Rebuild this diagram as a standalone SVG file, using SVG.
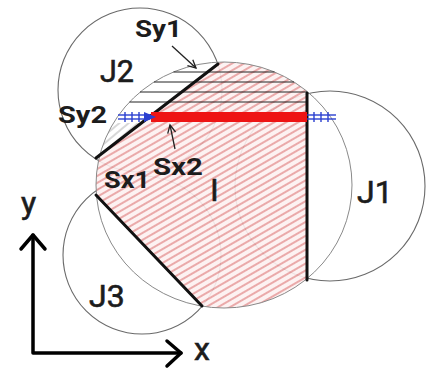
<svg xmlns="http://www.w3.org/2000/svg" width="429" height="369" viewBox="0 0 429 369">
<style>
.circ{fill:none;stroke:#6a6a6a;stroke-width:1.1}
.iout{fill:none;stroke:#8a8a8a;stroke-width:1}
.cut{stroke:#111;stroke-width:3;stroke-linecap:round;fill:none}
.hl{stroke:#222;stroke-width:1}
.blue{stroke:#2a3fd0;stroke-width:1.4;fill:none}
.ptr{stroke:#222;stroke-width:1.3;fill:none}
.axis{stroke:#000;stroke-width:3.5;fill:none;stroke-linecap:round;stroke-linejoin:round}
.big{font-family:Roboto,"Liberation Sans",sans-serif;font-size:32px;fill:#1c1c1c;stroke:#1c1c1c;stroke-width:0.6}
.sm{font-family:Roboto,"Liberation Sans",sans-serif;font-size:24px;font-weight:bold;fill:#1c1c1c}
</style>
<defs>
<pattern id="rh" patternUnits="userSpaceOnUse" width="10" height="6" patternTransform="rotate(-30)">
<rect width="10" height="6" fill="#fdf0f0"/>
<line x1="0" y1="3" x2="10" y2="3" stroke="#e07d7d" stroke-width="1.4"/>
</pattern>
<pattern id="gh" patternUnits="userSpaceOnUse" width="10" height="6" patternTransform="rotate(-40)">
<line x1="0" y1="3" x2="10" y2="3" stroke="#9a9a9a" stroke-width="0.8"/>
</pattern>
<clipPath id="cellClip"><polygon points="266.8,26.4 307,26.4 307,340 233.8,339.3 75.6,173.7"/></clipPath>
<clipPath id="lensClip"><polygon points="301,0 35,205 0,205 0,0"/></clipPath>
<clipPath id="belowBar"><rect x="0" y="123" width="429" height="246"/></clipPath>
<marker id="ah" markerUnits="userSpaceOnUse" markerWidth="12" markerHeight="12" refX="9" refY="5" orient="auto">
<path d="M1,1 L9,5 L1,9" fill="none" stroke="#222" stroke-width="1.3"/>
</marker>
</defs>

<g id="J1"><circle class="circ" cx="330" cy="186" r="95"/></g>
<g id="J2"><circle class="circ" cx="140" cy="90" r="82"/></g>
<g id="J3"><circle class="circ" cx="142" cy="255" r="79"/></g>

<g id="I">
<g clip-path="url(#cellClip)" opacity="0.9">
<ellipse cx="224" cy="185" rx="128" ry="123" fill="url(#rh)"/>
</g>
<g clip-path="url(#belowBar)">
<g clip-path="url(#lensClip)">
<ellipse cx="224" cy="185" rx="128" ry="123" fill="url(#gh)"/>
</g>
</g>
<ellipse class="iout" cx="224" cy="185" rx="128" ry="123"/>
<line class="hl" x1="173.5" y1="72" x2="274.5" y2="72"/>
<line class="hl" x1="154" y1="82" x2="294" y2="82"/>
<line class="hl" x1="140" y1="92" x2="307" y2="92"/>
<line class="hl" x1="129.5" y1="102" x2="307" y2="102"/>
<line class="cut" x1="218" y1="64" x2="96" y2="158"/>
<line class="cut" x1="96" y1="195" x2="202" y2="306"/>
<line class="cut" x1="307" y1="93" x2="307" y2="280"/>
<rect x="151" y="112" width="156" height="10" fill="#ee1414"/>
</g>

<g id="connectors">
<g id="blueLeft">
<line class="blue" x1="118" y1="115" x2="150" y2="115"/>
<line class="blue" x1="118" y1="119" x2="150" y2="119"/>
<line class="blue" x1="125" y1="112" x2="125" y2="122"/>
<line class="blue" x1="132" y1="112" x2="132" y2="122"/>
<line class="blue" x1="139" y1="112" x2="139" y2="122"/>
<polygon points="144,112 156,117 144,122" fill="#2a3fd0"/>
</g>
<g id="blueRight">
<line class="blue" x1="307" y1="115" x2="336" y2="115"/>
<line class="blue" x1="307" y1="119" x2="336" y2="119"/>
<line class="blue" x1="314" y1="112" x2="314" y2="122"/>
<line class="blue" x1="321" y1="112" x2="321" y2="122"/>
<line class="blue" x1="328" y1="112" x2="328" y2="122"/>
</g>
<line class="ptr" x1="172" y1="46" x2="196" y2="68" marker-end="url(#ah)"/>
<line class="ptr" x1="175" y1="149" x2="170" y2="125" marker-end="url(#ah)"/>
</g>

<g id="axes">
<path class="axis" d="M33,235 L33,353 L181,353"/>
<path class="axis" d="M21,249 L33,235 L45,249"/>
<path class="axis" d="M167,341 L181,353 L167,366"/>
</g>

<g id="labels">
<text class="big" x="100" y="82" textLength="34" lengthAdjust="spacingAndGlyphs">J2</text>
<text class="big" x="357" y="203" font-size="35">J1</text>
<text class="big" x="89" y="307" font-size="33">J3</text>
<text class="big" x="210" y="201" font-size="36">I</text>
<text class="sm" x="135" y="37" textLength="47" lengthAdjust="spacingAndGlyphs">Sy1</text>
<text class="sm" x="58" y="123" textLength="49" lengthAdjust="spacingAndGlyphs">Sy2</text>
<text class="sm" x="104" y="188" textLength="46" lengthAdjust="spacingAndGlyphs">Sx1</text>
<text class="sm" x="153" y="175" textLength="50" lengthAdjust="spacingAndGlyphs">Sx2</text>
<text class="big" x="21" y="214" font-size="30">y</text>
<text class="big" x="194" y="360" font-size="28">x</text>
</g>
</svg>
